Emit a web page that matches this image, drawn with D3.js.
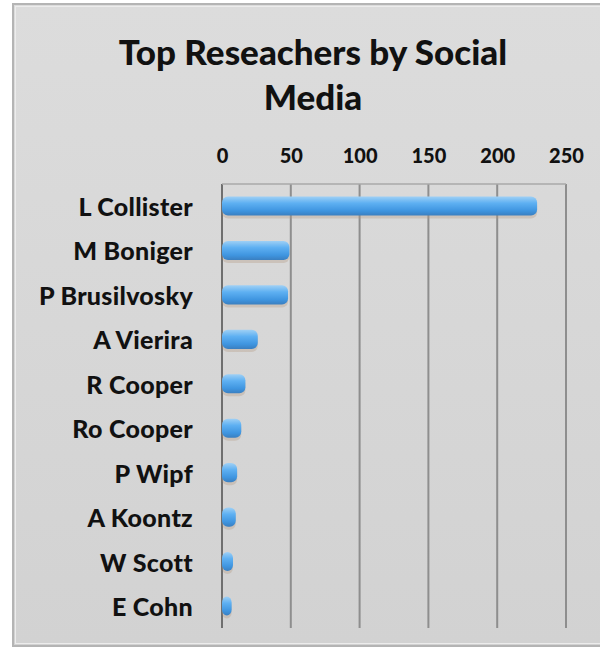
<!DOCTYPE html>
<html><head><meta charset="utf-8">
<script src="https://cdn.jsdelivr.net/npm/d3@7"></script>
<style>
html,body{margin:0;padding:0;background:#fff;}
svg{display:block;}
</style></head>
<body>
<script>
const categories = ["L Collister","M Boniger","P Brusilvosky","A Vierira","R Cooper","Ro Cooper","P Wipf","A Koontz","W Scott","E Cohn"];
const values = [229, 49, 48, 26, 17, 14, 11, 10, 8, 7];
const tickValues = [0, 50, 100, 150, 200, 250];
const titleLines = ["Top Reseachers by Social", "Media"];

(function(){
const W = 600, H = 655;
const font = "Lato, 'Open Sans', sans-serif";
const svg = d3.select("body").append("svg").attr("width", W).attr("height", H);

const defs = svg.append("defs");
const g1 = defs.append("linearGradient").attr("id","barg").attr("x1",0).attr("y1",0).attr("x2",0).attr("y2",1);
g1.append("stop").attr("offset","0%").attr("stop-color","#9fd0f5");
g1.append("stop").attr("offset","35%").attr("stop-color","#5eb0f2");
g1.append("stop").attr("offset","75%").attr("stop-color","#3f95e0");
g1.append("stop").attr("offset","100%").attr("stop-color","#3a7fc0");
const bgg = defs.append("linearGradient").attr("id","bgg").attr("x1",0).attr("y1",0).attr("x2",0).attr("y2",1);
bgg.append("stop").attr("offset","0%").attr("stop-color","#dcdcdc");
bgg.append("stop").attr("offset","100%").attr("stop-color","#d2d2d2");

svg.append("rect").attr("x",13).attr("y",4).attr("width",W).attr("height",642)
  .attr("fill","url(#bgg)").attr("stroke","#b4b4b4").attr("stroke-width",2);
svg.append("rect").attr("x",15.5).attr("y",6.5).attr("width",W).attr("height",637)
  .attr("fill","none").attr("stroke","#ececec").attr("stroke-width",1);

svg.append("text").attr("text-anchor","middle").attr("font-family",font).attr("font-weight","900")
  .attr("font-size",35).attr("fill","#111")
  .selectAll("tspan").data(titleLines).join("tspan")
  .attr("x",313).attr("y",(d,i)=>65 + i*45).text(d=>d);

const x0 = 222, x1 = 566, plotTop = 184, plotBottom = 628;
const x = d3.scaleLinear().domain([0,250]).range([x0,x1]);
const y = d3.scaleBand().domain(categories).range([plotTop,plotBottom]).paddingInner(0.57).paddingOuter(0.28);

const plot = svg.append("g");
plot.selectAll("line.grid").data(tickValues).join("line")
  .attr("x1",d=>x(d)).attr("x2",d=>x(d)).attr("y1",plotTop).attr("y2",plotBottom)
  .attr("stroke",d=>d===0?"#6f6f6f":"#8e8e8e").attr("stroke-width",2);
plot.append("line").attr("x1",x0).attr("x2",x1).attr("y1",plotTop).attr("y2",plotTop)
  .attr("stroke","#a8a8a8").attr("stroke-width",1.5);

const axis = d3.axisTop(x).tickValues(tickValues).tickSize(0).tickPadding(0);
const ax = svg.append("g").attr("transform",`translate(0,${plotTop-21})`).call(axis);
ax.select(".domain").remove();
ax.selectAll("text").attr("font-family",font).attr("font-weight","900").attr("font-size",20).attr("fill","#111");

plot.selectAll("rect.shadow").data(values).join("rect").attr("class","shadow")
  .attr("x",x0).attr("y",(d,i)=>y(categories[i])+3)
  .attr("width",d=>Math.max(0,x(d)-x0)).attr("height",y.bandwidth())
  .attr("rx",6).attr("fill","#b59a84").attr("opacity",0.35);
plot.selectAll("rect.bar").data(values).join("rect").attr("class","bar")
  .attr("x",x0).attr("y",(d,i)=>y(categories[i]))
  .attr("width",d=>Math.max(0,x(d)-x0)).attr("height",y.bandwidth())
  .attr("rx",6).attr("fill","url(#barg)");

const yax = svg.append("g").attr("transform",`translate(${x0-29},0)`).call(d3.axisLeft(y).tickSize(0).tickPadding(0));
yax.select(".domain").remove();
yax.selectAll("text").attr("font-family",font).attr("font-weight","900").attr("font-size",25).attr("fill","#111")
  .attr("letter-spacing","0.3").attr("transform","translate(0,2)");
})();
</script>
</body></html>
